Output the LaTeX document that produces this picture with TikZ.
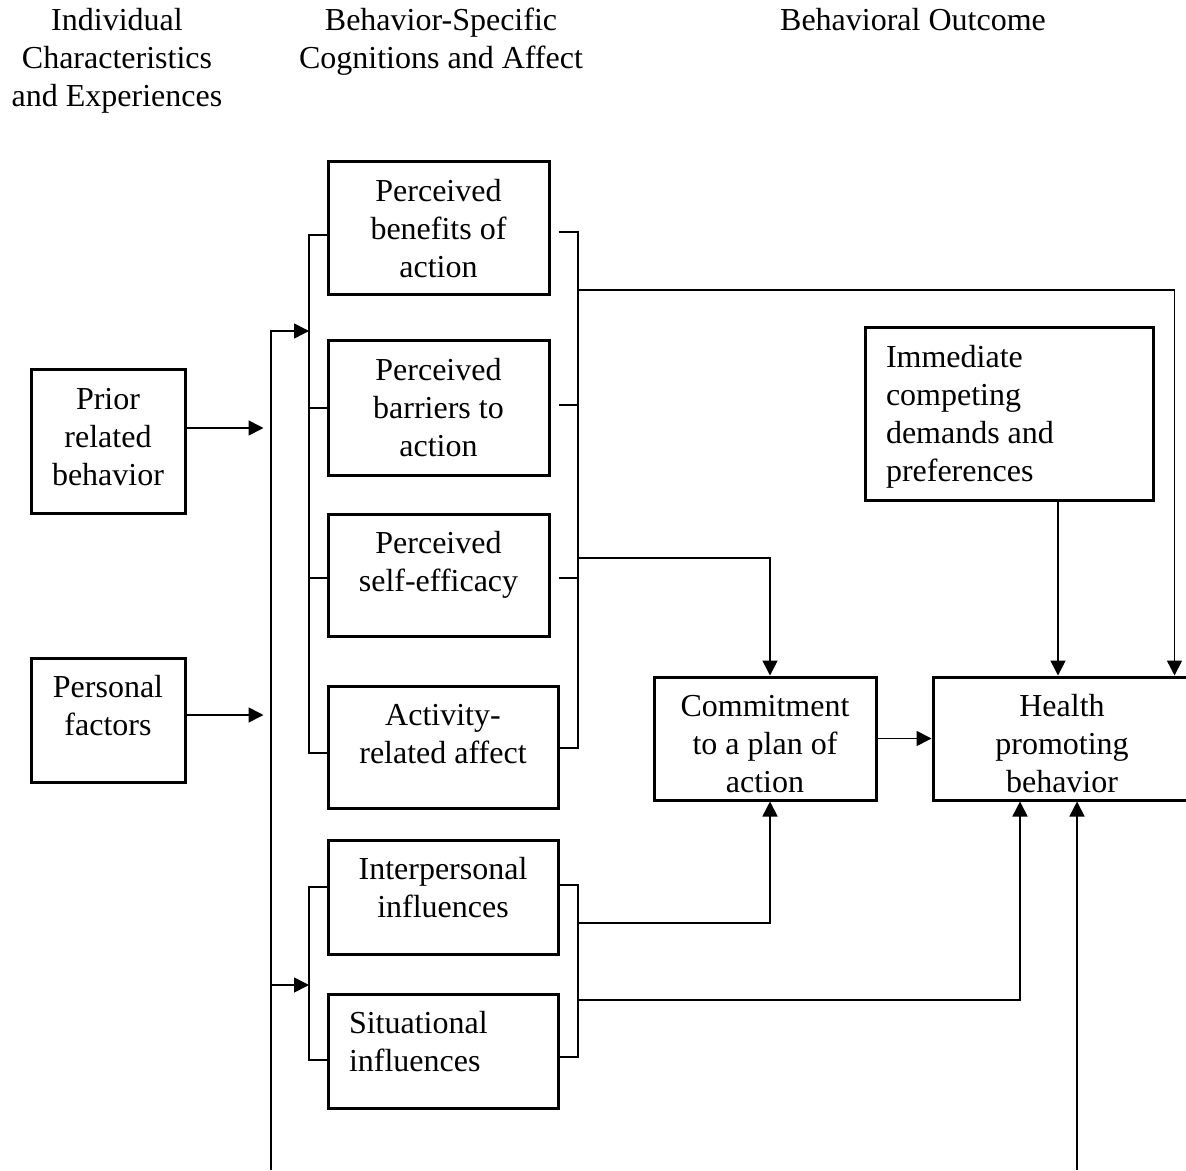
\documentclass[tikz,border=0pt]{standalone}
\usepackage{fontspec}
\setmainfont{Liberation Serif}
\usetikzlibrary{arrows.meta}
\tikzstyle{model-box} = [draw, line width=1.5pt, inner sep=0pt]
\tikzstyle{model-head} = [align=center, inner sep=0pt, anchor=north]
\tikzstyle{bracket-line} = [line width=1.2pt]
\tikzstyle{flow-arrow} = [line width=0.8pt, -{Triangle[length=7.5pt,width=7.5pt]}]
\newcommand{\boxtext}[4][\centering]{\parbox[c][#3][t]{#2}{#1\rule{0pt}{19.75pt}#4}}

\begin{document}
\begin{tikzpicture}[x=0.5pt, y=-0.5pt, font=\fontsize{16}{19}\selectfont]
\useasboundingbox (0,0) rectangle (1186,1170);
\clip (0,0) rectangle (1186,1170);

\node[model-head] (indiv) at (117,8) {Individual\\Characteristics\\and Experiences};
\node[model-head] (cogn) at (441,8) {Behavior-Specific\\Cognitions and Affect};
\node[model-head] (outc) at (913,8) {Behavioral Outcome};

\node[model-box] (prior) at (108,441.5) {\boxtext{77pt}{71.5pt}{Prior\\related\\behavior}};
\node[model-box] (personal) at (108,720) {\boxtext{77pt}{62pt}{Personal\\factors}};

\node[model-box] (benefits) at (438.5,228.5) {\boxtext{110.5pt}{66.5pt}{Perceived\\benefits of\\action}};
\node[model-box] (barriers) at (438.5,408) {\boxtext{110.5pt}{67pt}{Perceived\\barriers to\\action}};
\node[model-box] (efficacy) at (438.5,575) {\boxtext{110.5pt}{61pt}{Perceived\\self-efficacy}};
\node[model-box] (activity) at (443,747) {\boxtext{115pt}{61pt}{Activity-\\related affect}};
\node[model-box] (interp) at (443,897) {\boxtext{115pt}{57pt}{Interpersonal\\influences}};
\node[model-box] (situ) at (443,1051) {\boxtext[\raggedright\leftskip=10.5pt]{115pt}{57pt}{Situational\\influences}};

\node[model-box] (immediate) at (1009,414) {\boxtext[\raggedright\leftskip=10.5pt]{144pt}{86pt}{Immediate\\competing\\demands and\\preferences}};
\node[model-box] (commit) at (765,738.5) {\boxtext{111pt}{61.5pt}{Commitment\\to a plan of\\action}};
\node[model-box] (health) at (1062,738.5) {\boxtext{129pt}{61.5pt}{Health\\promoting\\behavior}};

\coordinate (lspine) at (309,0);
\coordinate (rspine) at (578,0);
\coordinate (spine1) at (309,331);
\coordinate (spine2) at (309,985);
\coordinate (trunk) at (271,1170);
\coordinate (feedback) at (1077,1170);
\coordinate (out1) at (578,290);
\coordinate (out2) at (578,558);
\coordinate (out3) at (578,923);
\coordinate (out4) at (578,1000);

\draw[bracket-line] ([yshift=-3.25pt]benefits.west) -| ([yshift=-3pt]activity.west -| lspine) -- ([yshift=-3pt]activity.west);
\draw[bracket-line] (barriers.west) -- (barriers.west -| lspine);
\draw[bracket-line] ([yshift=-1.5pt]efficacy.west) -- ([yshift=-1.5pt]efficacy.west -| lspine);
\draw[bracket-line] ([xshift=4pt,yshift=-1.75pt]benefits.east) -| ([yshift=-0.5pt]activity.east -| rspine) -- ([yshift=-0.5pt]activity.east);
\draw[bracket-line] ([xshift=4pt,yshift=1.5pt]barriers.east) -- ([yshift=1.5pt]barriers.east -| rspine);
\draw[bracket-line] ([xshift=4pt,yshift=-1.5pt]efficacy.east) -- ([yshift=-1.5pt]efficacy.east -| rspine);

\draw[bracket-line] ([yshift=5pt]interp.west) -| ([yshift=-4.5pt]situ.west -| lspine) -- ([yshift=-4.5pt]situ.west);
\draw[bracket-line] ([yshift=6pt]interp.east) -| ([yshift=-3pt]situ.east -| rspine) -- ([yshift=-3pt]situ.east);

\draw[flow-arrow] (trunk) |- (spine1);
\draw[flow-arrow] (trunk |- spine2) -- (spine2);
\draw[flow-arrow] ([yshift=6.75pt]prior.east) -- ++(77,0);
\draw[flow-arrow] ([yshift=2.5pt]personal.east) -- ++(77,0);

\draw[flow-arrow] (out1) -| ([xshift=-9pt]health.north east);
\draw[flow-arrow] (out2) -| ([xshift=2.5pt]commit.north);
\draw[flow-arrow] (out3) -| ([xshift=2.5pt]commit.south);
\draw[flow-arrow] (out4) -| ([xshift=-21pt]health.south);
\draw[flow-arrow] ([xshift=24.5pt]immediate.south) -- ([xshift=24.5pt]immediate.south |- health.north);
\draw[flow-arrow] (commit) -- (health);
\draw[flow-arrow] (feedback) -- (feedback |- health.south);
\end{tikzpicture}
\end{document}
